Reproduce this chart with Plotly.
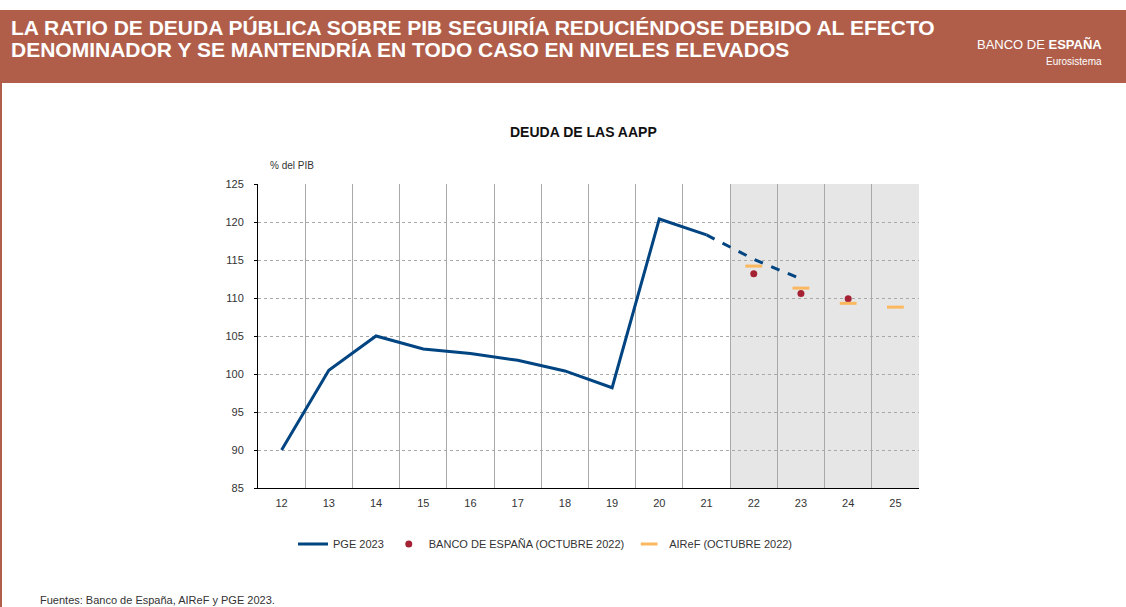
import plotly.graph_objects as go

# ---- data ----
years = ["12", "13", "14", "15", "16", "17", "18", "19", "20", "21", "22", "23", "24", "25"]
pge_hist = [90.0, 100.5, 105.0, 103.3, 102.7, 101.8, 100.4, 98.2, 120.4, 118.3]
pge_proj_years = ["21", "22", "23"]
pge_proj = [118.3, 115.1, 112.5]
bde_years = ["22", "23", "24"]
bde_vals = [113.2, 110.6, 109.9]
airef_years = ["22", "23", "24", "25"]
airef_vals = [114.2, 111.3, 109.3, 108.8]
y_ticks = [85, 90, 95, 100, 105, 110, 115, 120, 125]

W, H = 1126, 607
L, R, T, B = 258, 919, 184, 488


def px(x):
    return (x - L) / (R - L)


def py(y):
    return (B - y) / (B - T)


idx = {y: i for i, y in enumerate(years)}

BLUE = "#004481"
RED = "#A52235"
ORANGE = "#FBB85F"
HEAD = "#B05E4A"
FONT = "Liberation Sans, Arial, sans-serif"

fig = go.Figure()
fig.add_trace(go.Scatter(
    x=[idx[y] for y in years[:len(pge_hist)]], y=pge_hist, mode="lines",
    line=dict(color=BLUE, width=3), name="PGE 2023"))
fig.add_trace(go.Scatter(
    x=[idx[y] for y in pge_proj_years], y=pge_proj, mode="lines",
    line=dict(color=BLUE, width=3, dash="dash"), showlegend=False, hoverinfo="skip"))
fig.add_trace(go.Scatter(
    x=[idx[y] for y in bde_years], y=bde_vals, mode="markers",
    marker=dict(color=RED, size=7), name="BANCO DE ESPAÑA (OCTUBRE 2022)"))
fig.add_trace(go.Scatter(
    x=[idx[y] for y in airef_years], y=airef_vals, mode="markers",
    marker=dict(symbol="line-ew", size=12, line=dict(color=ORANGE, width=3), color=ORANGE),
    name="AIReF (OCTUBRE 2022)"))

shapes = [
    # projection shading
    dict(type="rect", xref="x", yref="y", x0=idx["22"] - 0.5, x1=idx["25"] + 0.5, y0=85, y1=125,
         fillcolor="#e6e6e6", line=dict(width=0), layer="below"),
    # header band
    dict(type="rect", xref="paper", yref="paper", x0=px(0), x1=px(W), y0=py(83), y1=py(10),
         fillcolor=HEAD, line=dict(width=0), layer="above"),
    # left border
    dict(type="rect", xref="paper", yref="paper", x0=px(0), x1=px(2), y0=py(H), y1=py(83),
         fillcolor=HEAD, line=dict(width=0), layer="above"),
]

annotations = [
    dict(text="<b>LA RATIO DE DEUDA PÚBLICA SOBRE PIB SEGUIRÍA REDUCIÉNDOSE DEBIDO AL EFECTO</b>",
         xref="paper", yref="paper", x=px(9), y=py(27), xanchor="left", yanchor="middle",
         showarrow=False, align="left", font=dict(family=FONT, size=21, color="white")),
    dict(text="<b>DENOMINADOR Y SE MANTENDRÍA EN TODO CASO EN NIVELES ELEVADOS</b>",
         xref="paper", yref="paper", x=px(9), y=py(49), xanchor="left", yanchor="middle",
         showarrow=False, align="left", font=dict(family=FONT, size=21, color="white")),
    dict(text="BANCO DE <b>ESPAÑA</b>", xref="paper", yref="paper", x=px(1104), y=py(44),
         xanchor="right", yanchor="middle", showarrow=False,
         font=dict(family=FONT, size=13, color="white")),
    dict(text="Eurosistema", xref="paper", yref="paper", x=px(1104), y=py(61),
         xanchor="right", yanchor="middle", showarrow=False,
         font=dict(family=FONT, size=10, color="white")),
    dict(text="<b>DEUDA DE LAS AAPP</b>", xref="paper", yref="paper", x=px(583), y=py(132),
         xanchor="center", yanchor="middle", showarrow=False,
         font=dict(family=FONT, size=14, color="#111")),
    dict(text="% del PIB", xref="paper", yref="paper", x=px(268), y=py(165),
         xanchor="left", yanchor="middle", showarrow=False,
         font=dict(family=FONT, size=10, color="#333")),
    dict(text="Fuentes: Banco de España, AIReF y PGE 2023.", xref="paper", yref="paper",
         x=px(38), y=py(592), xanchor="left", yanchor="top", showarrow=False,
         font=dict(family=FONT, size=11, color="#333")),
]

fig.update_layout(
    width=W, height=H,
    margin=dict(l=L, r=W - R, t=T, b=H - B),
    paper_bgcolor="white", plot_bgcolor="rgba(0,0,0,0)",
    font=dict(family=FONT, size=11, color="#333"),
    shapes=shapes, annotations=annotations,
    showlegend=True,
    legend=dict(orientation="h", x=px(293), y=py(544), xanchor="left", yanchor="middle",
                font=dict(family=FONT, size=11, color="#333"), bgcolor="rgba(0,0,0,0)",
                itemclick=False),
)
fig.update_xaxes(
    range=[-0.5, len(years) - 0.5], tickvals=list(range(len(years))), ticktext=years,
    showgrid=False, zeroline=False, showline=True, linecolor="black", linewidth=1,
    ticks="", ticklabelstandoff=5, tickfont=dict(size=11, color="#333"),
    minor=dict(tick0=0.5, dtick=1, showgrid=True, gridcolor="#a9a9a9", gridwidth=1.2, ticks=""),
)
fig.update_yaxes(
    range=[85, 125], tickvals=y_ticks, showgrid=True, gridcolor="#a8a8a8", gridwidth=1,
    griddash="dot", zeroline=False, showline=True, linecolor="black", linewidth=1,
    ticks="outside", ticklen=3, tickcolor="black", ticklabelstandoff=8,
    tickfont=dict(size=11, color="#333"),
)

fig.write_html("out.html", config={"displayModeBar": False},
               post_script="document.body.style.margin='0';document.body.style.overflow='hidden';")
